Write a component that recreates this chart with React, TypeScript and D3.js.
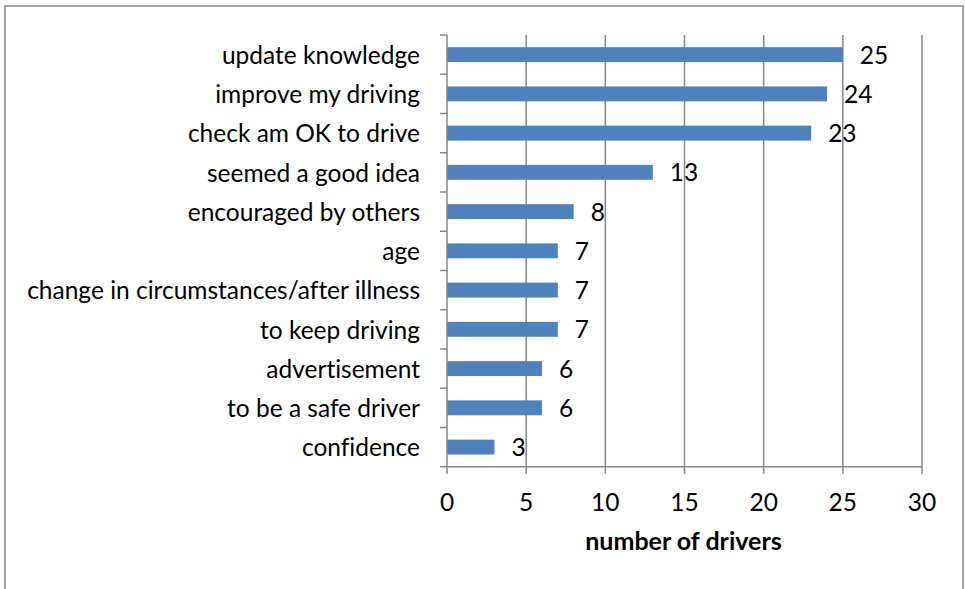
import React from "react";
import * as d3 from "d3";

const categories = [
  "update knowledge",
  "improve my driving",
  "check am OK to drive",
  "seemed a good idea",
  "encouraged by others",
  "age",
  "change in circumstances/after illness",
  "to keep driving",
  "advertisement",
  "to be a safe driver",
  "confidence",
];
const values = [25, 24, 23, 13, 8, 7, 7, 7, 6, 6, 3];
const xTicks = [0, 5, 10, 15, 20, 25, 30];
const axisTitle = "number of drivers";

const W = 965;
const H = 589;
const left = 447;
const right = 922;
const top = 35;
const bottom = 466.7;
const FONT = "Lato, 'Open Sans', sans-serif";
const FS = 24.5;

export default function App() {
  const x = d3.scaleLinear().domain([0, 30]).range([left, right]);
  const y = d3.scaleBand<string>().domain(categories).range([top, bottom]).paddingInner(0.62).paddingOuter(0.31);
  const step = y.step();
  const gridColor = "#868686";
  return (
    <svg width={W} height={H} style={{ position: "absolute", left: 0, top: 0, background: "#fff", fontVariantLigatures: "none" }}>
      <rect x={5} y={6} width={958} height={H + 10} fill="#fff" stroke="#868686" strokeWidth={1.5} />
      {xTicks.slice(1).map((t) => (
        <line key={"g" + t} x1={x(t)} x2={x(t)} y1={top} y2={bottom} stroke={gridColor} strokeWidth={1.5} />
      ))}
      {values.map((v, i) => (
        <rect key={"b" + i} x={x(0)} y={y(categories[i])!} width={x(v) - x(0)} height={y.bandwidth()} fill="#4F81BD" />
      ))}
      <line x1={x(0)} x2={x(0)} y1={top} y2={bottom} stroke={gridColor} strokeWidth={1.5} />
      <line x1={x(0)} x2={right} y1={bottom} y2={bottom} stroke={gridColor} strokeWidth={1.5} />
      {d3.range(categories.length + 1).map((k) => (
        <line key={"yt" + k} x1={x(0) - 7} x2={x(0)} y1={top + k * step} y2={top + k * step} stroke={gridColor} strokeWidth={1.5} />
      ))}
      {xTicks.map((t) => (
        <line key={"xt" + t} x1={x(t)} x2={x(t)} y1={bottom} y2={bottom + 7} stroke={gridColor} strokeWidth={1.5} />
      ))}
      {xTicks.map((t) => (
        <text key={"xl" + t} x={x(t)} y={510.5} textAnchor="middle" fontFamily={FONT} fontSize={FS} fill="#000">
          {t}
        </text>
      ))}
      {categories.map((c) => (
        <text key={"c" + c} x={420} y={y(c)! + y.bandwidth() / 2 + 9.3} textAnchor="end" fontFamily={FONT} fontSize={FS} fill="#000">
          {c}
        </text>
      ))}
      {values.map((v, i) => (
        <text key={"v" + i} x={x(v) + 17} y={y(categories[i])! + y.bandwidth() / 2 + 9} fontFamily={FONT} fontSize={FS} fill="#000">
          {v}
        </text>
      ))}
      <text x={683.5} y={550} textAnchor="middle" fontFamily={FONT} fontSize={FS + 0.5} fontWeight="bold" fill="#000">
        {axisTitle}
      </text>
    </svg>
  );
}
